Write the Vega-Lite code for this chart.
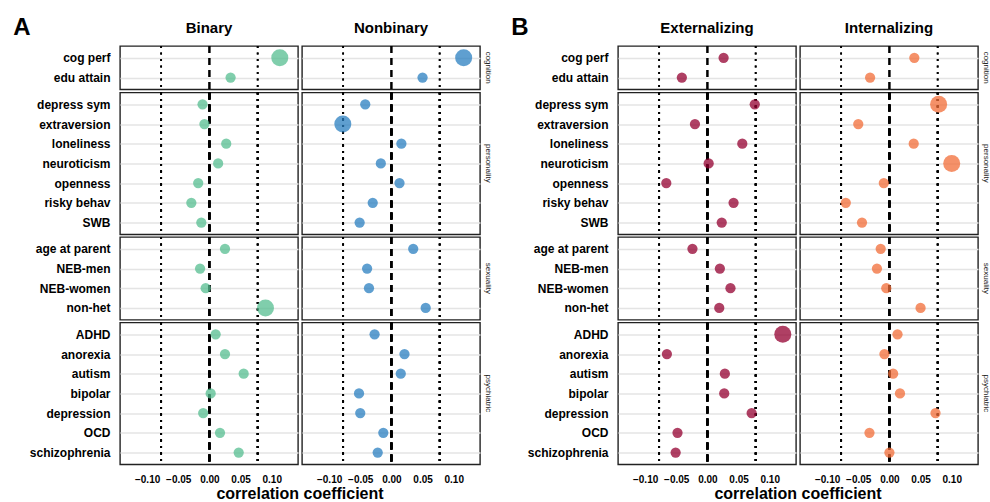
{
  "$schema": "https://vega.github.io/schema/vega-lite/v6.json",
  "padding": {"left": 13, "top": 16, "right": 0, "bottom": 0},
  "background": "white",
  "config": {
    "font": "Liberation Sans",
    "view": {"stroke": "#222222", "strokeWidth": 1.4},
    "axis": {"gridColor": "#e4e4e4", "gridWidth": 1.4, "domain": false, "ticks": false, "labelColor": "black", "labelFontWeight": "bold"},
    "axisX": {"minExtent": 0},
    "headerRow": {"labelOrient": "right", "labelAngle": 90, "labelFontSize": 8, "labelColor": "#1a1a1a", "labelPadding": 3},
    "headerColumn": {"labelFontSize": 15, "labelFontWeight": "bold", "labelColor": "black", "labelPadding": 8, "titleFontSize": 16, "titleFontWeight": "bold", "titleColor": "black"},
    "title": {"fontSize": 24, "fontWeight": "bold", "color": "black", "anchor": "start"}
  },
  "datasets": {
    "A": [
      {"domain": "cognition", "item": "cog perf", "group": "Binary", "r": 0.113, "sig": "yes"},
      {"domain": "cognition", "item": "edu attain", "group": "Binary", "r": 0.034, "sig": "no"},
      {"domain": "personality", "item": "depress sym", "group": "Binary", "r": -0.011, "sig": "no"},
      {"domain": "personality", "item": "extraversion", "group": "Binary", "r": -0.008, "sig": "no"},
      {"domain": "personality", "item": "loneliness", "group": "Binary", "r": 0.027, "sig": "no"},
      {"domain": "personality", "item": "neuroticism", "group": "Binary", "r": 0.014, "sig": "no"},
      {"domain": "personality", "item": "openness", "group": "Binary", "r": -0.018, "sig": "no"},
      {"domain": "personality", "item": "risky behav", "group": "Binary", "r": -0.029, "sig": "no"},
      {"domain": "personality", "item": "SWB", "group": "Binary", "r": -0.013, "sig": "no"},
      {"domain": "sexuality", "item": "age at parent", "group": "Binary", "r": 0.025, "sig": "no"},
      {"domain": "sexuality", "item": "NEB-men", "group": "Binary", "r": -0.015, "sig": "no"},
      {"domain": "sexuality", "item": "NEB-women", "group": "Binary", "r": -0.006, "sig": "no"},
      {"domain": "sexuality", "item": "non-het", "group": "Binary", "r": 0.090, "sig": "yes"},
      {"domain": "psychiatric", "item": "ADHD", "group": "Binary", "r": 0.010, "sig": "no"},
      {"domain": "psychiatric", "item": "anorexia", "group": "Binary", "r": 0.025, "sig": "no"},
      {"domain": "psychiatric", "item": "autism", "group": "Binary", "r": 0.055, "sig": "no"},
      {"domain": "psychiatric", "item": "bipolar", "group": "Binary", "r": 0.002, "sig": "no"},
      {"domain": "psychiatric", "item": "depression", "group": "Binary", "r": -0.010, "sig": "no"},
      {"domain": "psychiatric", "item": "OCD", "group": "Binary", "r": 0.017, "sig": "no"},
      {"domain": "psychiatric", "item": "schizophrenia", "group": "Binary", "r": 0.047, "sig": "no"},
      {"domain": "cognition", "item": "cog perf", "group": "Nonbinary", "r": 0.116, "sig": "yes"},
      {"domain": "cognition", "item": "edu attain", "group": "Nonbinary", "r": 0.050, "sig": "no"},
      {"domain": "personality", "item": "depress sym", "group": "Nonbinary", "r": -0.042, "sig": "no"},
      {"domain": "personality", "item": "extraversion", "group": "Nonbinary", "r": -0.078, "sig": "yes"},
      {"domain": "personality", "item": "loneliness", "group": "Nonbinary", "r": 0.016, "sig": "no"},
      {"domain": "personality", "item": "neuroticism", "group": "Nonbinary", "r": -0.017, "sig": "no"},
      {"domain": "personality", "item": "openness", "group": "Nonbinary", "r": 0.013, "sig": "no"},
      {"domain": "personality", "item": "risky behav", "group": "Nonbinary", "r": -0.030, "sig": "no"},
      {"domain": "personality", "item": "SWB", "group": "Nonbinary", "r": -0.051, "sig": "no"},
      {"domain": "sexuality", "item": "age at parent", "group": "Nonbinary", "r": 0.035, "sig": "no"},
      {"domain": "sexuality", "item": "NEB-men", "group": "Nonbinary", "r": -0.039, "sig": "no"},
      {"domain": "sexuality", "item": "NEB-women", "group": "Nonbinary", "r": -0.036, "sig": "no"},
      {"domain": "sexuality", "item": "non-het", "group": "Nonbinary", "r": 0.055, "sig": "no"},
      {"domain": "psychiatric", "item": "ADHD", "group": "Nonbinary", "r": -0.027, "sig": "no"},
      {"domain": "psychiatric", "item": "anorexia", "group": "Nonbinary", "r": 0.021, "sig": "no"},
      {"domain": "psychiatric", "item": "autism", "group": "Nonbinary", "r": 0.015, "sig": "no"},
      {"domain": "psychiatric", "item": "bipolar", "group": "Nonbinary", "r": -0.052, "sig": "no"},
      {"domain": "psychiatric", "item": "depression", "group": "Nonbinary", "r": -0.050, "sig": "no"},
      {"domain": "psychiatric", "item": "OCD", "group": "Nonbinary", "r": -0.013, "sig": "no"},
      {"domain": "psychiatric", "item": "schizophrenia", "group": "Nonbinary", "r": -0.022, "sig": "no"}
    ],
    "B": [
      {"domain": "cognition", "item": "cog perf", "group": "Externalizing", "r": 0.026, "sig": "no"},
      {"domain": "cognition", "item": "edu attain", "group": "Externalizing", "r": -0.041, "sig": "no"},
      {"domain": "personality", "item": "depress sym", "group": "Externalizing", "r": 0.076, "sig": "no"},
      {"domain": "personality", "item": "extraversion", "group": "Externalizing", "r": -0.020, "sig": "no"},
      {"domain": "personality", "item": "loneliness", "group": "Externalizing", "r": 0.056, "sig": "no"},
      {"domain": "personality", "item": "neuroticism", "group": "Externalizing", "r": 0.002, "sig": "no"},
      {"domain": "personality", "item": "openness", "group": "Externalizing", "r": -0.066, "sig": "no"},
      {"domain": "personality", "item": "risky behav", "group": "Externalizing", "r": 0.042, "sig": "no"},
      {"domain": "personality", "item": "SWB", "group": "Externalizing", "r": 0.023, "sig": "no"},
      {"domain": "sexuality", "item": "age at parent", "group": "Externalizing", "r": -0.024, "sig": "no"},
      {"domain": "sexuality", "item": "NEB-men", "group": "Externalizing", "r": 0.020, "sig": "no"},
      {"domain": "sexuality", "item": "NEB-women", "group": "Externalizing", "r": 0.037, "sig": "no"},
      {"domain": "sexuality", "item": "non-het", "group": "Externalizing", "r": 0.019, "sig": "no"},
      {"domain": "psychiatric", "item": "ADHD", "group": "Externalizing", "r": 0.121, "sig": "yes"},
      {"domain": "psychiatric", "item": "anorexia", "group": "Externalizing", "r": -0.065, "sig": "no"},
      {"domain": "psychiatric", "item": "autism", "group": "Externalizing", "r": 0.028, "sig": "no"},
      {"domain": "psychiatric", "item": "bipolar", "group": "Externalizing", "r": 0.027, "sig": "no"},
      {"domain": "psychiatric", "item": "depression", "group": "Externalizing", "r": 0.071, "sig": "no"},
      {"domain": "psychiatric", "item": "OCD", "group": "Externalizing", "r": -0.048, "sig": "no"},
      {"domain": "psychiatric", "item": "schizophrenia", "group": "Externalizing", "r": -0.051, "sig": "no"},
      {"domain": "cognition", "item": "cog perf", "group": "Internalizing", "r": 0.040, "sig": "no"},
      {"domain": "cognition", "item": "edu attain", "group": "Internalizing", "r": -0.031, "sig": "no"},
      {"domain": "personality", "item": "depress sym", "group": "Internalizing", "r": 0.079, "sig": "yes"},
      {"domain": "personality", "item": "extraversion", "group": "Internalizing", "r": -0.050, "sig": "no"},
      {"domain": "personality", "item": "loneliness", "group": "Internalizing", "r": 0.039, "sig": "no"},
      {"domain": "personality", "item": "neuroticism", "group": "Internalizing", "r": 0.100, "sig": "yes"},
      {"domain": "personality", "item": "openness", "group": "Internalizing", "r": -0.009, "sig": "no"},
      {"domain": "personality", "item": "risky behav", "group": "Internalizing", "r": -0.070, "sig": "no"},
      {"domain": "personality", "item": "SWB", "group": "Internalizing", "r": -0.044, "sig": "no"},
      {"domain": "sexuality", "item": "age at parent", "group": "Internalizing", "r": -0.014, "sig": "no"},
      {"domain": "sexuality", "item": "NEB-men", "group": "Internalizing", "r": -0.020, "sig": "no"},
      {"domain": "sexuality", "item": "NEB-women", "group": "Internalizing", "r": -0.005, "sig": "no"},
      {"domain": "sexuality", "item": "non-het", "group": "Internalizing", "r": 0.050, "sig": "no"},
      {"domain": "psychiatric", "item": "ADHD", "group": "Internalizing", "r": 0.013, "sig": "no"},
      {"domain": "psychiatric", "item": "anorexia", "group": "Internalizing", "r": -0.008, "sig": "no"},
      {"domain": "psychiatric", "item": "autism", "group": "Internalizing", "r": 0.006, "sig": "no"},
      {"domain": "psychiatric", "item": "bipolar", "group": "Internalizing", "r": 0.017, "sig": "no"},
      {"domain": "psychiatric", "item": "depression", "group": "Internalizing", "r": 0.074, "sig": "no"},
      {"domain": "psychiatric", "item": "OCD", "group": "Internalizing", "r": -0.032, "sig": "no"},
      {"domain": "psychiatric", "item": "schizophrenia", "group": "Internalizing", "r": 0.000, "sig": "no"}
    ]
  },
  "hconcat": [
    {
      "title": {"text": "A", "dx": -16, "offset": -19},
      "spacing": -1.5,
      "resolve": {"scale": {"y": "independent"}},
      "vconcat": [
        {
          "data": {"name": "A"},
          "transform": [{"filter": "datum.domain === 'cognition'"}],
          "facet": {
            "row": {"field": "domain", "type": "nominal", "title": null},
            "column": {"field": "group", "type": "nominal", "sort": ["Binary", "Nonbinary"], "title": null}
          },
          "spacing": {"row": 0, "column": 2},
          "spec": {
            "width": 178, "height": {"step": 19.7},
            "layer": [
              {"mark": {"type": "rule", "strokeDash": [2, 4.5], "strokeWidth": 1.8, "color": "black"}, "encoding": {"x": {"datum": -0.0775, "type": "quantitative", "title": null, "axis": {"values": [-0.1, -0.05, 0, 0.05, 0.1], "labels": false, "title": null}}}},
              {"mark": {"type": "rule", "strokeDash": [2, 4.5], "strokeWidth": 1.8, "color": "black"}, "encoding": {"x": {"datum": 0.0775, "type": "quantitative", "title": null, "axis": {"values": [-0.1, -0.05, 0, 0.05, 0.1], "labels": false, "title": null}}}},
              {"mark": {"type": "rule", "strokeDash": [7, 5], "strokeWidth": 2, "color": "black"}, "encoding": {"x": {"datum": 0, "type": "quantitative", "title": null, "axis": {"values": [-0.1, -0.05, 0, 0.05, 0.1], "labels": false, "title": null}}}},
              {"mark": {"type": "circle", "opacity": 0.75},
               "encoding": {
                 "x": {"field": "r", "type": "quantitative", "scale": {"domain": [-0.1435, 0.1422], "nice": false, "zero": false}, "axis": {"values": [-0.1, -0.05, 0, 0.05, 0.1], "labels": false, "title": null}},
                 "y": {"field": "item", "type": "nominal", "sort": null, "scale": {"padding": 0.6}, "axis": {"title": null, "grid": true, "labelFontSize": 12, "labelPadding": 9}},
                 "color": {"field": "group", "type": "nominal", "scale": {"domain": ["Binary", "Nonbinary", "Externalizing", "Internalizing"], "range": ["#56be90", "#2a7fc0", "#940030", "#f26c37"]}, "legend": null},
                 "size": {"field": "sig", "type": "ordinal", "scale": {"domain": ["no", "yes"], "range": [105, 290]}, "legend": null}
               }}
            ]
          }
        },
        {
          "data": {"name": "A"},
          "transform": [{"filter": "datum.domain === 'personality'"}],
          "facet": {
            "row": {"field": "domain", "type": "nominal", "title": null},
            "column": {"field": "group", "type": "nominal", "sort": ["Binary", "Nonbinary"], "title": null, "header": {"labels": false}}
          },
          "spacing": {"row": 0, "column": 2},
          "spec": {
            "width": 178, "height": {"step": 19.7},
            "layer": [
              {"mark": {"type": "rule", "strokeDash": [2, 4.5], "strokeWidth": 1.8, "color": "black"}, "encoding": {"x": {"datum": -0.0775, "type": "quantitative", "title": null, "axis": {"values": [-0.1, -0.05, 0, 0.05, 0.1], "labels": false, "title": null}}}},
              {"mark": {"type": "rule", "strokeDash": [2, 4.5], "strokeWidth": 1.8, "color": "black"}, "encoding": {"x": {"datum": 0.0775, "type": "quantitative", "title": null, "axis": {"values": [-0.1, -0.05, 0, 0.05, 0.1], "labels": false, "title": null}}}},
              {"mark": {"type": "rule", "strokeDash": [7, 5], "strokeWidth": 2, "color": "black"}, "encoding": {"x": {"datum": 0, "type": "quantitative", "title": null, "axis": {"values": [-0.1, -0.05, 0, 0.05, 0.1], "labels": false, "title": null}}}},
              {"mark": {"type": "circle", "opacity": 0.75},
               "encoding": {
                 "x": {"field": "r", "type": "quantitative", "scale": {"domain": [-0.1435, 0.1422], "nice": false, "zero": false}, "axis": {"values": [-0.1, -0.05, 0, 0.05, 0.1], "labels": false, "title": null}},
                 "y": {"field": "item", "type": "nominal", "sort": null, "scale": {"padding": 0.6}, "axis": {"title": null, "grid": true, "labelFontSize": 12, "labelPadding": 9}},
                 "color": {"field": "group", "type": "nominal", "scale": {"domain": ["Binary", "Nonbinary", "Externalizing", "Internalizing"], "range": ["#56be90", "#2a7fc0", "#940030", "#f26c37"]}, "legend": null},
                 "size": {"field": "sig", "type": "ordinal", "scale": {"domain": ["no", "yes"], "range": [105, 290]}, "legend": null}
               }}
            ]
          }
        },
        {
          "data": {"name": "A"},
          "transform": [{"filter": "datum.domain === 'sexuality'"}],
          "facet": {
            "row": {"field": "domain", "type": "nominal", "title": null},
            "column": {"field": "group", "type": "nominal", "sort": ["Binary", "Nonbinary"], "title": null, "header": {"labels": false}}
          },
          "spacing": {"row": 0, "column": 2},
          "spec": {
            "width": 178, "height": {"step": 19.7},
            "layer": [
              {"mark": {"type": "rule", "strokeDash": [2, 4.5], "strokeWidth": 1.8, "color": "black"}, "encoding": {"x": {"datum": -0.0775, "type": "quantitative", "title": null, "axis": {"values": [-0.1, -0.05, 0, 0.05, 0.1], "labels": false, "title": null}}}},
              {"mark": {"type": "rule", "strokeDash": [2, 4.5], "strokeWidth": 1.8, "color": "black"}, "encoding": {"x": {"datum": 0.0775, "type": "quantitative", "title": null, "axis": {"values": [-0.1, -0.05, 0, 0.05, 0.1], "labels": false, "title": null}}}},
              {"mark": {"type": "rule", "strokeDash": [7, 5], "strokeWidth": 2, "color": "black"}, "encoding": {"x": {"datum": 0, "type": "quantitative", "title": null, "axis": {"values": [-0.1, -0.05, 0, 0.05, 0.1], "labels": false, "title": null}}}},
              {"mark": {"type": "circle", "opacity": 0.75},
               "encoding": {
                 "x": {"field": "r", "type": "quantitative", "scale": {"domain": [-0.1435, 0.1422], "nice": false, "zero": false}, "axis": {"values": [-0.1, -0.05, 0, 0.05, 0.1], "labels": false, "title": null}},
                 "y": {"field": "item", "type": "nominal", "sort": null, "scale": {"padding": 0.6}, "axis": {"title": null, "grid": true, "labelFontSize": 12, "labelPadding": 9}},
                 "color": {"field": "group", "type": "nominal", "scale": {"domain": ["Binary", "Nonbinary", "Externalizing", "Internalizing"], "range": ["#56be90", "#2a7fc0", "#940030", "#f26c37"]}, "legend": null},
                 "size": {"field": "sig", "type": "ordinal", "scale": {"domain": ["no", "yes"], "range": [105, 290]}, "legend": null}
               }}
            ]
          }
        },
        {
          "data": {"name": "A"},
          "transform": [{"filter": "datum.domain === 'psychiatric'"}],
          "facet": {
            "row": {"field": "domain", "type": "nominal", "title": null},
            "column": {"field": "group", "type": "nominal", "sort": ["Binary", "Nonbinary"], "title": "correlation coefficient", "header": {"labels": false, "labelPadding": 0, "titleOrient": "bottom", "titlePadding": -9}}
          },
          "spacing": {"row": 0, "column": 2},
          "spec": {
            "width": 178, "height": {"step": 19.7},
            "layer": [
              {"mark": {"type": "rule", "strokeDash": [2, 4.5], "strokeWidth": 1.8, "color": "black"}, "encoding": {"x": {"datum": -0.0775, "type": "quantitative", "title": null, "axis": {"values": [-0.1, -0.05, 0, 0.05, 0.1], "format": ".2f", "title": null, "labelFontSize": 10, "labelPadding": 8, "minExtent": 0}}}},
              {"mark": {"type": "rule", "strokeDash": [2, 4.5], "strokeWidth": 1.8, "color": "black"}, "encoding": {"x": {"datum": 0.0775, "type": "quantitative", "title": null, "axis": {"values": [-0.1, -0.05, 0, 0.05, 0.1], "format": ".2f", "title": null, "labelFontSize": 10, "labelPadding": 8, "minExtent": 0}}}},
              {"mark": {"type": "rule", "strokeDash": [7, 5], "strokeWidth": 2, "color": "black"}, "encoding": {"x": {"datum": 0, "type": "quantitative", "title": null, "axis": {"values": [-0.1, -0.05, 0, 0.05, 0.1], "format": ".2f", "title": null, "labelFontSize": 10, "labelPadding": 8, "minExtent": 0}}}},
              {"mark": {"type": "circle", "opacity": 0.75},
               "encoding": {
                 "x": {"field": "r", "type": "quantitative", "scale": {"domain": [-0.1435, 0.1422], "nice": false, "zero": false}, "axis": {"values": [-0.1, -0.05, 0, 0.05, 0.1], "format": ".2f", "title": null, "labelFontSize": 10, "labelPadding": 8, "minExtent": 0}},
                 "y": {"field": "item", "type": "nominal", "sort": null, "scale": {"padding": 0.6}, "axis": {"title": null, "grid": true, "labelFontSize": 12, "labelPadding": 9}},
                 "color": {"field": "group", "type": "nominal", "scale": {"domain": ["Binary", "Nonbinary", "Externalizing", "Internalizing"], "range": ["#56be90", "#2a7fc0", "#940030", "#f26c37"]}, "legend": null},
                 "size": {"field": "sig", "type": "ordinal", "scale": {"domain": ["no", "yes"], "range": [105, 290]}, "legend": null}
               }}
            ]
          }
        }
      ]
    },
    {
      "title": {"text": "B", "dx": -16, "offset": -19},
      "spacing": -1.5,
      "resolve": {"scale": {"y": "independent"}},
      "vconcat": [
        {
          "data": {"name": "B"},
          "transform": [{"filter": "datum.domain === 'cognition'"}],
          "facet": {
            "row": {"field": "domain", "type": "nominal", "title": null},
            "column": {"field": "group", "type": "nominal", "sort": ["Externalizing", "Internalizing"], "title": null}
          },
          "spacing": {"row": 0, "column": 2},
          "spec": {
            "width": 178, "height": {"step": 19.7},
            "layer": [
              {"mark": {"type": "rule", "strokeDash": [2, 4.5], "strokeWidth": 1.8, "color": "black"}, "encoding": {"x": {"datum": -0.0775, "type": "quantitative", "title": null, "axis": {"values": [-0.1, -0.05, 0, 0.05, 0.1], "labels": false, "title": null}}}},
              {"mark": {"type": "rule", "strokeDash": [2, 4.5], "strokeWidth": 1.8, "color": "black"}, "encoding": {"x": {"datum": 0.0775, "type": "quantitative", "title": null, "axis": {"values": [-0.1, -0.05, 0, 0.05, 0.1], "labels": false, "title": null}}}},
              {"mark": {"type": "rule", "strokeDash": [7, 5], "strokeWidth": 2, "color": "black"}, "encoding": {"x": {"datum": 0, "type": "quantitative", "title": null, "axis": {"values": [-0.1, -0.05, 0, 0.05, 0.1], "labels": false, "title": null}}}},
              {"mark": {"type": "circle", "opacity": 0.75},
               "encoding": {
                 "x": {"field": "r", "type": "quantitative", "scale": {"domain": [-0.1435, 0.1422], "nice": false, "zero": false}, "axis": {"values": [-0.1, -0.05, 0, 0.05, 0.1], "labels": false, "title": null}},
                 "y": {"field": "item", "type": "nominal", "sort": null, "scale": {"padding": 0.6}, "axis": {"title": null, "grid": true, "labelFontSize": 12, "labelPadding": 9}},
                 "color": {"field": "group", "type": "nominal", "scale": {"domain": ["Binary", "Nonbinary", "Externalizing", "Internalizing"], "range": ["#56be90", "#2a7fc0", "#940030", "#f26c37"]}, "legend": null},
                 "size": {"field": "sig", "type": "ordinal", "scale": {"domain": ["no", "yes"], "range": [105, 290]}, "legend": null}
               }}
            ]
          }
        },
        {
          "data": {"name": "B"},
          "transform": [{"filter": "datum.domain === 'personality'"}],
          "facet": {
            "row": {"field": "domain", "type": "nominal", "title": null},
            "column": {"field": "group", "type": "nominal", "sort": ["Externalizing", "Internalizing"], "title": null, "header": {"labels": false}}
          },
          "spacing": {"row": 0, "column": 2},
          "spec": {
            "width": 178, "height": {"step": 19.7},
            "layer": [
              {"mark": {"type": "rule", "strokeDash": [2, 4.5], "strokeWidth": 1.8, "color": "black"}, "encoding": {"x": {"datum": -0.0775, "type": "quantitative", "title": null, "axis": {"values": [-0.1, -0.05, 0, 0.05, 0.1], "labels": false, "title": null}}}},
              {"mark": {"type": "rule", "strokeDash": [2, 4.5], "strokeWidth": 1.8, "color": "black"}, "encoding": {"x": {"datum": 0.0775, "type": "quantitative", "title": null, "axis": {"values": [-0.1, -0.05, 0, 0.05, 0.1], "labels": false, "title": null}}}},
              {"mark": {"type": "rule", "strokeDash": [7, 5], "strokeWidth": 2, "color": "black"}, "encoding": {"x": {"datum": 0, "type": "quantitative", "title": null, "axis": {"values": [-0.1, -0.05, 0, 0.05, 0.1], "labels": false, "title": null}}}},
              {"mark": {"type": "circle", "opacity": 0.75},
               "encoding": {
                 "x": {"field": "r", "type": "quantitative", "scale": {"domain": [-0.1435, 0.1422], "nice": false, "zero": false}, "axis": {"values": [-0.1, -0.05, 0, 0.05, 0.1], "labels": false, "title": null}},
                 "y": {"field": "item", "type": "nominal", "sort": null, "scale": {"padding": 0.6}, "axis": {"title": null, "grid": true, "labelFontSize": 12, "labelPadding": 9}},
                 "color": {"field": "group", "type": "nominal", "scale": {"domain": ["Binary", "Nonbinary", "Externalizing", "Internalizing"], "range": ["#56be90", "#2a7fc0", "#940030", "#f26c37"]}, "legend": null},
                 "size": {"field": "sig", "type": "ordinal", "scale": {"domain": ["no", "yes"], "range": [105, 290]}, "legend": null}
               }}
            ]
          }
        },
        {
          "data": {"name": "B"},
          "transform": [{"filter": "datum.domain === 'sexuality'"}],
          "facet": {
            "row": {"field": "domain", "type": "nominal", "title": null},
            "column": {"field": "group", "type": "nominal", "sort": ["Externalizing", "Internalizing"], "title": null, "header": {"labels": false}}
          },
          "spacing": {"row": 0, "column": 2},
          "spec": {
            "width": 178, "height": {"step": 19.7},
            "layer": [
              {"mark": {"type": "rule", "strokeDash": [2, 4.5], "strokeWidth": 1.8, "color": "black"}, "encoding": {"x": {"datum": -0.0775, "type": "quantitative", "title": null, "axis": {"values": [-0.1, -0.05, 0, 0.05, 0.1], "labels": false, "title": null}}}},
              {"mark": {"type": "rule", "strokeDash": [2, 4.5], "strokeWidth": 1.8, "color": "black"}, "encoding": {"x": {"datum": 0.0775, "type": "quantitative", "title": null, "axis": {"values": [-0.1, -0.05, 0, 0.05, 0.1], "labels": false, "title": null}}}},
              {"mark": {"type": "rule", "strokeDash": [7, 5], "strokeWidth": 2, "color": "black"}, "encoding": {"x": {"datum": 0, "type": "quantitative", "title": null, "axis": {"values": [-0.1, -0.05, 0, 0.05, 0.1], "labels": false, "title": null}}}},
              {"mark": {"type": "circle", "opacity": 0.75},
               "encoding": {
                 "x": {"field": "r", "type": "quantitative", "scale": {"domain": [-0.1435, 0.1422], "nice": false, "zero": false}, "axis": {"values": [-0.1, -0.05, 0, 0.05, 0.1], "labels": false, "title": null}},
                 "y": {"field": "item", "type": "nominal", "sort": null, "scale": {"padding": 0.6}, "axis": {"title": null, "grid": true, "labelFontSize": 12, "labelPadding": 9}},
                 "color": {"field": "group", "type": "nominal", "scale": {"domain": ["Binary", "Nonbinary", "Externalizing", "Internalizing"], "range": ["#56be90", "#2a7fc0", "#940030", "#f26c37"]}, "legend": null},
                 "size": {"field": "sig", "type": "ordinal", "scale": {"domain": ["no", "yes"], "range": [105, 290]}, "legend": null}
               }}
            ]
          }
        },
        {
          "data": {"name": "B"},
          "transform": [{"filter": "datum.domain === 'psychiatric'"}],
          "facet": {
            "row": {"field": "domain", "type": "nominal", "title": null},
            "column": {"field": "group", "type": "nominal", "sort": ["Externalizing", "Internalizing"], "title": "correlation coefficient", "header": {"labels": false, "labelPadding": 0, "titleOrient": "bottom", "titlePadding": -9}}
          },
          "spacing": {"row": 0, "column": 2},
          "spec": {
            "width": 178, "height": {"step": 19.7},
            "layer": [
              {"mark": {"type": "rule", "strokeDash": [2, 4.5], "strokeWidth": 1.8, "color": "black"}, "encoding": {"x": {"datum": -0.0775, "type": "quantitative", "title": null, "axis": {"values": [-0.1, -0.05, 0, 0.05, 0.1], "format": ".2f", "title": null, "labelFontSize": 10, "labelPadding": 8, "minExtent": 0}}}},
              {"mark": {"type": "rule", "strokeDash": [2, 4.5], "strokeWidth": 1.8, "color": "black"}, "encoding": {"x": {"datum": 0.0775, "type": "quantitative", "title": null, "axis": {"values": [-0.1, -0.05, 0, 0.05, 0.1], "format": ".2f", "title": null, "labelFontSize": 10, "labelPadding": 8, "minExtent": 0}}}},
              {"mark": {"type": "rule", "strokeDash": [7, 5], "strokeWidth": 2, "color": "black"}, "encoding": {"x": {"datum": 0, "type": "quantitative", "title": null, "axis": {"values": [-0.1, -0.05, 0, 0.05, 0.1], "format": ".2f", "title": null, "labelFontSize": 10, "labelPadding": 8, "minExtent": 0}}}},
              {"mark": {"type": "circle", "opacity": 0.75},
               "encoding": {
                 "x": {"field": "r", "type": "quantitative", "scale": {"domain": [-0.1435, 0.1422], "nice": false, "zero": false}, "axis": {"values": [-0.1, -0.05, 0, 0.05, 0.1], "format": ".2f", "title": null, "labelFontSize": 10, "labelPadding": 8, "minExtent": 0}},
                 "y": {"field": "item", "type": "nominal", "sort": null, "scale": {"padding": 0.6}, "axis": {"title": null, "grid": true, "labelFontSize": 12, "labelPadding": 9}},
                 "color": {"field": "group", "type": "nominal", "scale": {"domain": ["Binary", "Nonbinary", "Externalizing", "Internalizing"], "range": ["#56be90", "#2a7fc0", "#940030", "#f26c37"]}, "legend": null},
                 "size": {"field": "sig", "type": "ordinal", "scale": {"domain": ["no", "yes"], "range": [105, 290]}, "legend": null}
               }}
            ]
          }
        }
      ]
    }
  ],
  "spacing": 19,
  "resolve": {"scale": {"y": "independent", "x": "independent"}}
}
